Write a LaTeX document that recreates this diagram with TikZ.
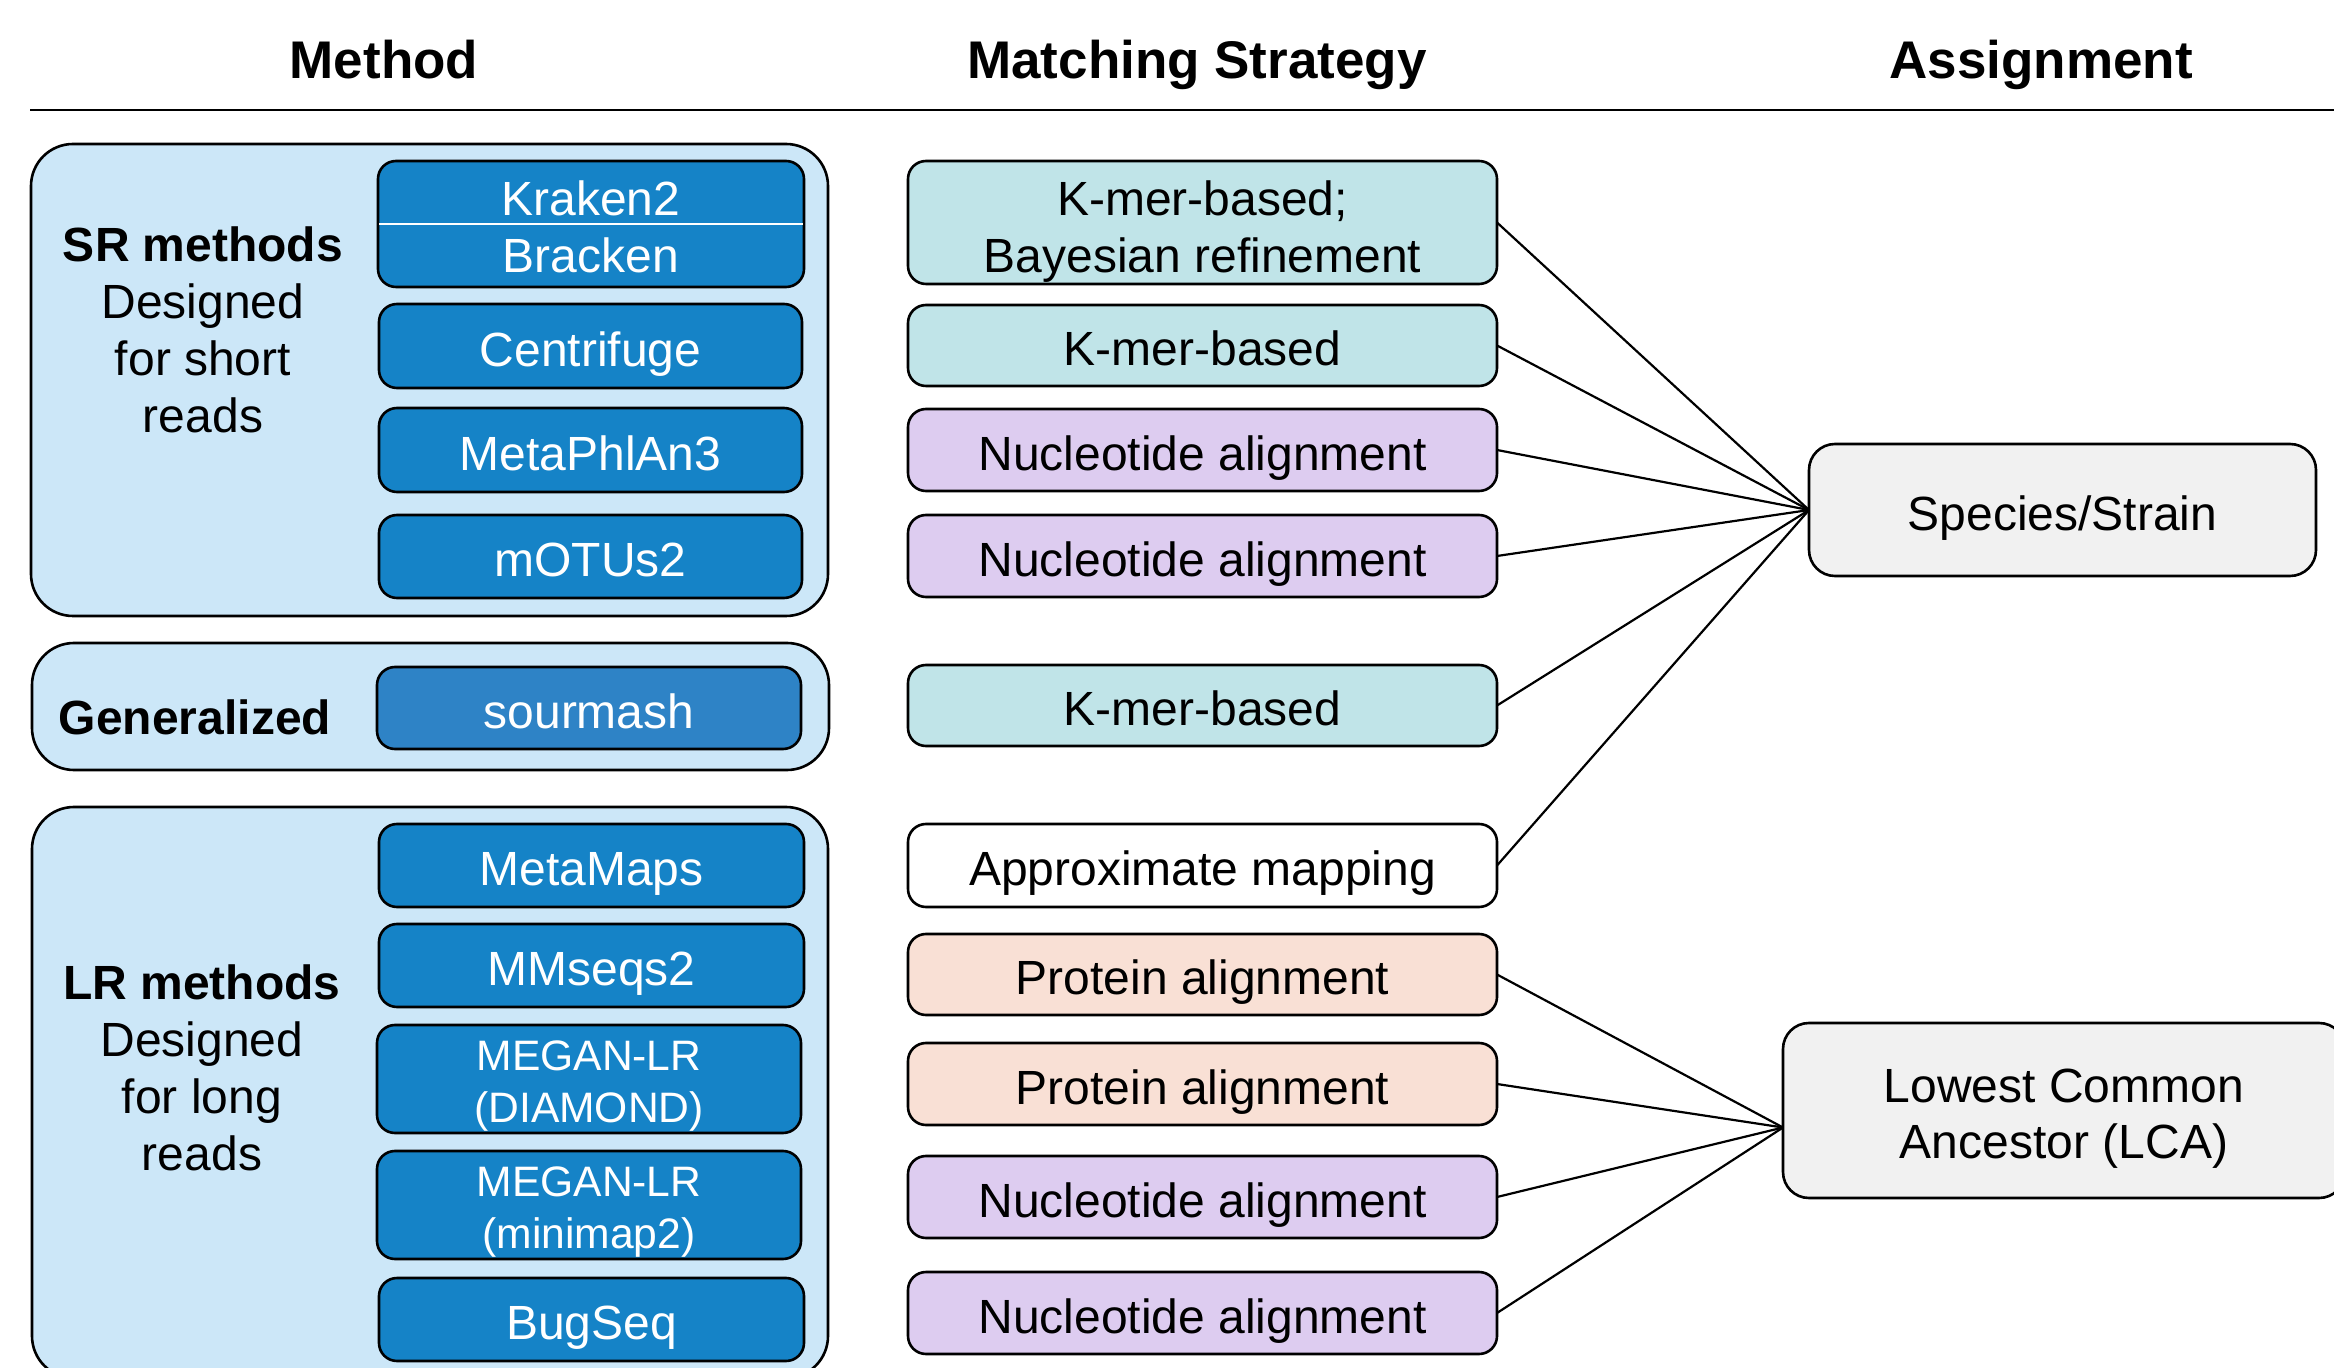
\documentclass[tikz,border=0pt]{standalone}
\usepackage{fontspec}
\setmainfont{Liberation Sans}
\definecolor{outerblue}{HTML}{CCE7F8}
\definecolor{toolblue}{HTML}{1583C7}
\definecolor{smblue}{HTML}{2E83C6}
\definecolor{tealc}{HTML}{C0E4E8}
\definecolor{purplec}{HTML}{DDCCF0}
\definecolor{peachc}{HTML}{F9E0D5}
\definecolor{greyc}{HTML}{F1F1F1}
\newcommand\mybox[7]{%
  \pgfmathsetmacro\cx{(#3+#5)/2}\pgfmathsetmacro\cy{(#4+#6)/2}%
  \pgfmathsetmacro\ww{(#5-#3)/2}\pgfmathsetmacro\hh{(#6-#4)/2}%
  \node[#2, minimum width=\ww pt, minimum height=\hh pt] (#1) at (\cx,\cy) {#7};}
\tikzset{
  base/.style={draw=black, line width=1.3pt, inner sep=0pt, outer sep=0pt, align=center,
    font=\fontsize{24}{28.3}\selectfont},
  oneline/.style={text height=20.2pt, text depth=0pt},
  multi/.style={align=center, inner sep=0pt, font=\fontsize{24}{28.3}\selectfont},
  outerbox/.style={base, fill=outerblue, rounded corners=21pt},
  toolbox/.style={base, fill=toolblue, text=white, rounded corners=9pt},
  smbox/.style={toolbox, fill=smblue},
  strat/.style={base, rounded corners=9pt},
  teal/.style={strat, fill=tealc},
  purp/.style={strat, fill=purplec},
  peach/.style={strat, fill=peachc},
  plain/.style={strat, fill=white},
  assign/.style={base, fill=greyc, rounded corners=13pt},
  header/.style={font=\fontsize{26.5}{30}\selectfont\bfseries, inner sep=0pt, text height=19pt, text depth=0pt},
  grouplabel/.style={align=center, inner sep=0pt, font=\fontsize{24}{28.5}\selectfont},
  conn/.style={draw=black, line width=1.1pt},
}
\begin{document}
\begin{tikzpicture}[x=0.5pt,y=-0.5pt]
\clip (0,0) rectangle (2334,1368);
\fill[white] (0,0) rectangle (2334,1368);
% headers
\node[header] (h1) at (384,60) {Method};
\node[header] (h2) at (1197,60) {Matching Strategy};
\node[header] (h3) at (2041,60) {Assignment};
\coordinate (hl) at (30,110);
\coordinate (hr) at (2334,110);
\draw[line width=1pt] (hl) -- (hr);
% group boxes
\mybox{sr}{outerbox}{31}{144}{828}{616}{}
\mybox{gen}{outerbox}{32}{643}{829}{770}{}
\mybox{lr}{outerbox}{32}{807}{828}{1378}{}
\node[grouplabel] (srl) at (203,330) {\textbf{SR methods}\\Designed\\for short\\reads};
\node[grouplabel, font=\fontsize{24}{28.5}\selectfont\bfseries] (genl) at (195,717) {Generalized};
\node[grouplabel] (lrl) at (202,1068) {\textbf{LR methods}\\Designed\\for long\\reads};
% tools
\mybox{t1}{toolbox}{378}{161}{804}{287}{}
\draw[white, line width=1pt] ([xshift=0.7pt]t1.west) -- ([xshift=-0.7pt]t1.east);
\node[multi, text=white] (t1txt) at ([yshift=-1.5pt]t1.center) {Kraken2\\Bracken};
\mybox{t2}{toolbox, oneline}{379}{304}{802}{388}{Centrifuge}
\mybox{t3}{toolbox, oneline}{379}{408}{802}{492}{MetaPhlAn3}
\mybox{t4}{toolbox, oneline}{379}{515}{802}{598}{mOTUs2}
\mybox{t5}{smbox, oneline}{377}{667}{801}{749}{sourmash}
\mybox{t6}{toolbox, oneline}{379}{824}{804}{907}{MetaMaps}
\mybox{t7}{toolbox, oneline}{379}{924}{804}{1007}{MMseqs2}
\mybox{t8}{toolbox}{377}{1025}{801}{1133}{}
\node[multi, text=white, font=\fontsize{21.3}{26}\selectfont] (t8txt) at ([yshift=-3.7pt]t8.center) {MEGAN-LR\\(DIAMOND)};
\mybox{t9}{toolbox}{377}{1151}{801}{1259}{}
\node[multi, text=white, font=\fontsize{21.3}{26}\selectfont] (t9txt) at ([yshift=-3.7pt]t9.center) {MEGAN-LR\\(minimap2)};
\mybox{t10}{toolbox, oneline}{379}{1278}{804}{1361}{BugSeq}
% strategies
\mybox{m1}{teal}{908}{161}{1497}{284}{}
\node[multi] (m1txt) at ([yshift=-4.5pt]m1.center) {K-mer-based;\\Bayesian refinement};
\mybox{m2}{teal, oneline}{908}{305}{1497}{386}{K-mer-based}
\mybox{m3}{purp, oneline}{908}{409}{1497}{491}{Nucleotide alignment}
\mybox{m4}{purp, oneline}{908}{515}{1497}{597}{Nucleotide alignment}
\mybox{m5}{teal, oneline}{908}{665}{1497}{746}{K-mer-based}
\mybox{m6}{plain, oneline}{908}{824}{1497}{907}{Approximate mapping}
\mybox{m7}{peach, oneline}{908}{934}{1497}{1015}{Protein alignment}
\mybox{m8}{peach, oneline}{908}{1043}{1497}{1125}{Protein alignment}
\mybox{m9}{purp, oneline}{908}{1156}{1497}{1238}{Nucleotide alignment}
\mybox{m10}{purp, oneline}{908}{1272}{1497}{1354}{Nucleotide alignment}
% assignments
\mybox{sp}{assign, oneline}{1809}{444}{2316}{576}{Species/Strain}
\mybox{lca}{assign}{1783}{1023}{2345}{1198}{}
\node[multi, font=\fontsize{24}{28.3}\selectfont] (lcatxt) at ([yshift=-4.1pt]lca.center) {Lowest Common\\Ancestor (LCA)};
\coordinate (lcain) at ([yshift=-8.5pt]lca.west);
% connectors
\foreach \i in {1,...,6} {\draw[conn] (m\i.east) -- (sp.west);}
\foreach \i in {7,...,10} {\draw[conn] (m\i.east) -- (lcain);}
\end{tikzpicture}
\end{document}
